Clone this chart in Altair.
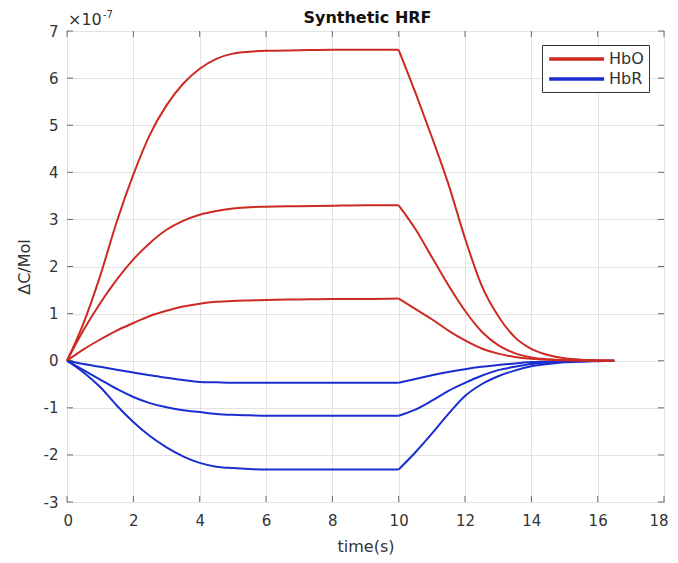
import altair as alt
import pandas as pd

FONT = "DejaVu Sans"
RED = "#CC2A22"
BLUE = "#1A2ED0"
INK = "#333333"

# time points (s)
T = [0, 0.5, 1, 1.5, 2, 2.5, 3, 3.5, 4, 4.5, 5, 5.5, 6, 7, 8, 9, 10,
     10.5, 11, 11.5, 12, 12.5, 13, 13.5, 14, 14.5, 15, 15.5, 16, 16.5]
STIM_END = 10  # end of stimulus plateau (s)

# values in units of 1e-7 Mol
HBO_HIGH = [0, 0.8, 1.8, 2.95, 3.95, 4.8, 5.42, 5.88, 6.2, 6.41, 6.52, 6.56, 6.58, 6.59, 6.6, 6.6, 6.6,
            5.7, 4.75, 3.75, 2.6, 1.6, 0.95, 0.5, 0.25, 0.12, 0.05, 0.02, 0.01, 0]
HBO_MID = [0, 0.65, 1.22, 1.72, 2.15, 2.5, 2.78, 2.97, 3.1, 3.18, 3.23, 3.26, 3.27, 3.28, 3.29, 3.3, 3.3,
           2.8, 2.2, 1.6, 1.06, 0.62, 0.33, 0.16, 0.07, 0.03, 0.01, 0.005, 0, 0]
HBO_LOW = [0, 0.24, 0.45, 0.64, 0.8, 0.95, 1.06, 1.15, 1.21, 1.25, 1.27, 1.28, 1.29, 1.3, 1.31, 1.31, 1.32,
           1.1, 0.88, 0.64, 0.43, 0.26, 0.15, 0.08, 0.04, 0.02, 0.01, 0.005, 0, 0]
HBR_LOW = [0, -0.07, -0.13, -0.19, -0.25, -0.31, -0.36, -0.41, -0.45, -0.46, -0.47, -0.47, -0.47, -0.47, -0.47, -0.47, -0.47,
           -0.39, -0.31, -0.24, -0.18, -0.13, -0.09, -0.06, -0.03, -0.02, -0.01, -0.005, 0, 0]
HBR_MID = [0, -0.2, -0.4, -0.6, -0.77, -0.9, -0.99, -1.05, -1.09, -1.13, -1.15, -1.16, -1.17, -1.17, -1.17, -1.17, -1.17,
           -1.04, -0.85, -0.64, -0.47, -0.32, -0.2, -0.13, -0.07, -0.04, -0.02, -0.01, -0.005, 0]
HBR_HIGH = [0, -0.25, -0.56, -0.95, -1.3, -1.6, -1.84, -2.03, -2.17, -2.25, -2.28, -2.3, -2.31, -2.31, -2.31, -2.31, -2.31,
            -1.95, -1.55, -1.13, -0.75, -0.5, -0.33, -0.21, -0.12, -0.07, -0.035, -0.02, -0.01, 0]

SERIES = [
    ("HbR", "HbR low", HBR_LOW),
    ("HbR", "HbR mid", HBR_MID),
    ("HbR", "HbR high", HBR_HIGH),
    ("HbO", "HbO low", HBO_LOW),
    ("HbO", "HbO mid", HBO_MID),
    ("HbO", "HbO high", HBO_HIGH),
]

X_TICKS = list(range(0, 19, 2))
Y_TICKS = list(range(-3, 8))

rows = []
for order, (typ, name, vals) in enumerate(SERIES):
    for t, v in zip(T, vals):
        if t <= STIM_END:
            rows.append({"t": t, "v": v, "type": typ, "seg": name + " on", "order": order})
        if t >= STIM_END:
            rows.append({"t": t, "v": v, "type": typ, "seg": name + " off", "order": order})
df = pd.DataFrame(rows)

W, H = 597, 471

x_enc = alt.X("t:Q", scale=alt.Scale(domain=[0, 18], nice=False, zero=False),
              axis=alt.Axis(values=X_TICKS, title="time(s)", grid=True, ticks=False, tickSize=0,
                            domain=False, labelPadding=11, titlePadding=10,
                            labelFlush=True, labelFlushOffset=4))
y_enc = alt.Y("v:Q", scale=alt.Scale(domain=[-3, 7], nice=False, zero=False),
              axis=alt.Axis(values=Y_TICKS, title="ΔC/Mol", grid=True, ticks=False, tickSize=0,
                            domain=False, labelPadding=9, titleX=-43, titleBaseline="middle",
                            labelExpr="'' + datum.value"))

lines = alt.Chart(df).mark_line(strokeWidth=2, interpolate="monotone").encode(
    x=x_enc,
    y=y_enc,
    color=alt.Color("type:N",
                    scale=alt.Scale(domain=["HbO", "HbR"], range=[RED, BLUE]),
                    legend=alt.Legend(title=None, orient="none", legendX=475, legendY=14,
                                      symbolType="M-1,0H7", symbolSize=189, symbolStrokeWidth=3.5,
                                      labelFontSize=16, labelFont=FONT, labelColor=INK,
                                      fillColor="white", strokeColor=INK, padding=5,
                                      rowPadding=3, labelOffset=44)),
    detail="seg:N",
    order="order:Q",
)

xt = pd.DataFrame({"t": X_TICKS})
yt = pd.DataFrame({"v": Y_TICKS})
tick_style = dict(color=INK, thickness=1, size=6)

bottom = alt.Chart(xt).mark_tick(orient="vertical", **tick_style).encode(
    x=x_enc, y=alt.value(H - 3))
top = alt.Chart(xt).mark_tick(orient="vertical", **tick_style).encode(
    x=x_enc, y=alt.value(3))
left = alt.Chart(yt).mark_tick(orient="horizontal", **tick_style).encode(
    y=y_enc, x=alt.value(3))
right = alt.Chart(yt).mark_tick(orient="horizontal", **tick_style).encode(
    y=y_enc, x=alt.value(W - 3))

dummy = pd.DataFrame({"a": [0]})
title_txt = alt.Chart(dummy).mark_text(text="Synthetic HRF", fontSize=16, fontWeight="bold", font=FONT,
                                       align="center", baseline="alphabetic", color="#111111").encode(
    x=alt.value(W / 2 + 2), y=alt.value(-8))
exp_base = alt.Chart(dummy).mark_text(text="×10", fontSize=16, font=FONT, align="left",
                                      baseline="alphabetic", color=INK).encode(
    x=alt.value(1), y=alt.value(-6))
exp_pow = alt.Chart(dummy).mark_text(text="-7", fontSize=10, font=FONT, align="left",
                                     baseline="alphabetic", color=INK).encode(
    x=alt.value(36), y=alt.value(-13))

chart = alt.layer(lines, bottom, top, left, right, title_txt, exp_base, exp_pow).properties(
    width=W, height=H,
    autosize=alt.AutoSizeParams(type="none"),
    padding={"left": 59, "top": 23, "right": 6, "bottom": 53},
).configure_view(
    stroke=INK, strokeWidth=1
).configure_axis(
    labelFont=FONT, titleFont=FONT, labelFontSize=15, titleFontSize=16,
    labelColor=INK, titleColor=INK, titleFontWeight="normal",
    gridColor="#E3E3E3", gridWidth=1
)

chart.save("out.html", embed_options={"renderer": "svg", "actions": False})
